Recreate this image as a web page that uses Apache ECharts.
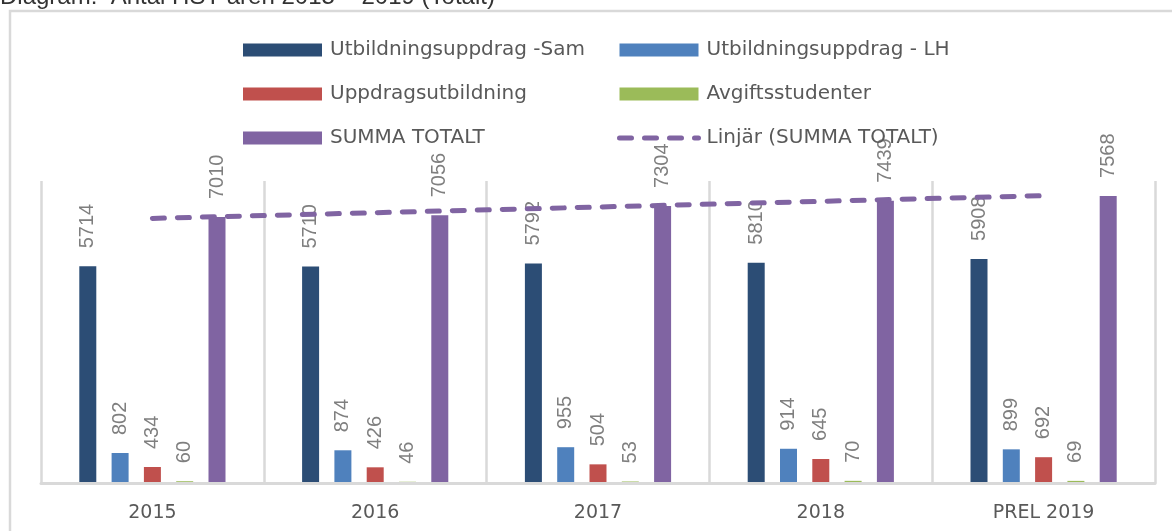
<!DOCTYPE html>
<html>
<head>
<meta charset="utf-8">
<script src="https://cdn.jsdelivr.net/npm/echarts@6/dist/echarts.min.js"></script>
<style>
  html, body { margin: 0; padding: 0; background: #fff; }
  #chart { width: 1172px; height: 531px; }
</style>
</head>
<body>
<div id="chart"></div>
<script>
  const categories = ['2015', '2016', '2017', '2018', 'PREL 2019'];
  const samValues = [5714, 5710, 5792, 5810, 5908];
  const lhValues = [802, 874, 955, 914, 899];
  const uppdragValues = [434, 426, 504, 645, 692];
  const avgiftValues = [60, 46, 53, 70, 69];
  const totalValues = [7010, 7056, 7304, 7439, 7568];
  // trendline at first and last year
  const trendValues = [6976, null, null, null, 7575];

  const labelStyle = {
    show: true,
    position: 'top',
    rotate: 90,
    align: 'left',
    verticalAlign: 'middle',
    distance: 18,
    color: '#7f7f7f',
    fontSize: 20,
    fontFamily: 'Liberation Sans Narrow, Liberation Sans, sans-serif'
  };

  const legendText = {
    fontSize: 20,
    color: '#595959',
    fontFamily: 'DejaVu Sans',
    lineHeight: 20,
    padding: [0, 0, 0, 3]
  };

  const trendLine = { color: '#8064A2', width: 5, type: [12, 13], cap: 'round' };

  function bar(name, data, color) {
    return {
      name: name,
      type: 'bar',
      data: data,
      barWidth: 17,
      barGap: '90%',
      itemStyle: { color: color },
      label: labelStyle
    };
  }

  const chart = echarts.init(document.getElementById('chart'));
  chart.setOption({
    animation: false,
    graphic: [
      {
        type: 'rect',
        z: -10,
        shape: { x: 10, y: 11, width: 1200, height: 560 },
        style: { fill: 'none', stroke: '#d9d9d9', lineWidth: 2.5 }
      },
      {
        type: 'text',
        x: 0,
        y: -3,
        style: {
          text: 'Diagram:  Antal HST åren 2015 – 2019 (Totalt)',
          font: '24px "Liberation Sans"',
          fill: '#333',
          verticalAlign: 'middle'
        }
      }
    ],
    legend: [
      {
        orient: 'vertical',
        left: 238,
        top: 35,
        icon: 'rect',
        itemWidth: 79,
        itemHeight: 13,
        itemGap: 24,
        textStyle: legendText,
        data: ['Utbildningsuppdrag -Sam', 'Uppdragsutbildning', 'SUMMA TOTALT']
      },
      {
        orient: 'vertical',
        left: 612,
        top: 35,
        itemWidth: 79,
        itemHeight: 13,
        itemGap: 24,
        textStyle: legendText,
        data: [
          { name: 'Utbildningsuppdrag - LH', icon: 'rect' },
          { name: 'Avgiftsstudenter', icon: 'rect' },
          { name: 'Linjär (SUMMA TOTALT)', itemStyle: { opacity: 0 }, lineStyle: trendLine }
        ]
      }
    ],
    grid: { left: 41, right: 17, top: 181, bottom: 47.5 },
    xAxis: {
      type: 'category',
      data: categories,
      z: 3,
      axisLine: { lineStyle: { color: '#d9d9d9', width: 3 } },
      axisTick: { show: false },
      splitLine: { show: true, showMinLine: true, showMaxLine: true, lineStyle: { color: '#d9d9d9', width: 2.5 } },
      axisLabel: { margin: 20, color: '#595959', fontSize: 19, fontFamily: 'DejaVu Sans' }
    },
    yAxis: { type: 'value', min: 0, max: 7960, show: false },
    series: [
      bar('Utbildningsuppdrag -Sam', samValues, '#2C4D75'),
      bar('Utbildningsuppdrag - LH', lhValues, '#4F81BD'),
      bar('Uppdragsutbildning', uppdragValues, '#C0504D'),
      bar('Avgiftsstudenter', avgiftValues, '#9BBB59'),
      bar('SUMMA TOTALT', totalValues, '#8064A2'),
      {
        name: 'Linjär (SUMMA TOTALT)',
        type: 'line',
        data: trendValues,
        connectNulls: true,
        symbol: 'none',
        z: 5,
        itemStyle: { color: '#8064A2' },
        lineStyle: trendLine
      }
    ]
  });
</script>
</body>
</html>
